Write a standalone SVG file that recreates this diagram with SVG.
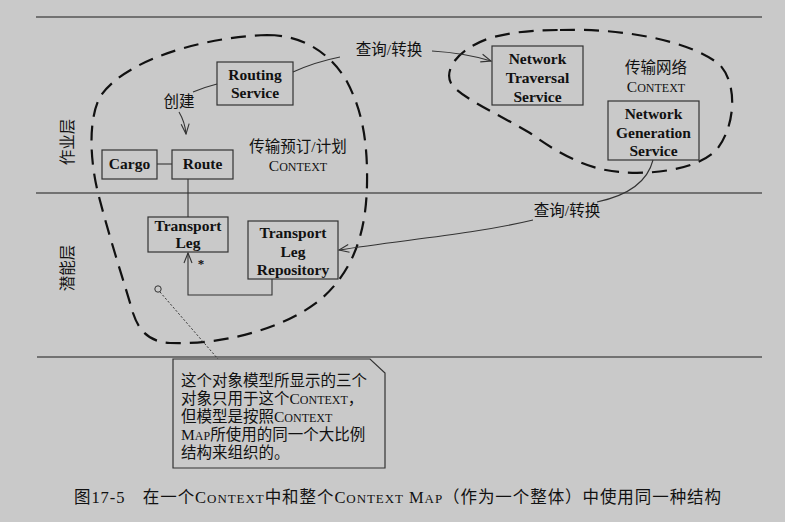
<svg xmlns="http://www.w3.org/2000/svg" width="785" height="522" viewBox="0 0 785 522">
<defs>
<marker id="open" markerWidth="12" markerHeight="10" refX="11" refY="5" orient="auto" markerUnits="userSpaceOnUse">
<path d="M1,1 L11,5 L1,9" fill="none" stroke="#333" stroke-width="1.1"/>
</marker>
<style>
.bg{fill:#c9c9c9}
.lane{stroke:#555;stroke-width:1.5;fill:none}
.blob{stroke:#111;stroke-width:2.2;fill:none;stroke-dasharray:15 9}
.box{fill:none;stroke:#333;stroke-width:1.2}
.con{fill:none;stroke:#333;stroke-width:1.1}
.nt{font-family:"Liberation Serif","Times New Roman",serif;font-weight:bold;font-size:15.5px;fill:#111;text-anchor:middle}
.cn{font-family:"Liberation Serif","Noto Sans CJK SC",serif;font-size:15.5px;fill:#111}
.sc{font-size:12px}
.mid{text-anchor:middle}
</style>
</defs>
<rect class="bg" x="0" y="0" width="785" height="522"/>

<g id="lanes">
<line class="lane" x1="36" y1="17" x2="762" y2="17"/>
<line class="lane" x1="36" y1="193" x2="762" y2="193"/>
<line class="lane" x1="37" y1="357" x2="762" y2="357"/>
<text class="cn mid" transform="translate(73,142) rotate(-90)">作业层</text>
<text class="cn mid" transform="translate(73,268) rotate(-90)">潜能层</text>
</g>

<g id="ctx-booking">
<path class="blob" d="M 267 35 C 305 35, 330 55, 345 78 C 360 105, 368 135, 367 185 C 366 230, 355 270, 320 300 C 285 328, 225 345, 170 343 C 145 342, 137 325, 133 313 C 125 285, 110 240, 98 193 C 90 160, 88 120, 100 97 C 120 65, 190 38, 267 35 Z"/>
<text class="cn mid" x="298" y="152">传输预订/计划</text>
<text class="cn mid" x="298" y="171">C<tspan class="sc">ONTEXT</tspan></text>
</g>

<g id="ctx-network">
<path class="blob" d="M 560 30 C 620 28, 690 40, 720 65 C 738 85, 735 125, 718 148 C 700 170, 650 175, 620 172 C 590 170, 560 155, 530 133 C 500 115, 465 100, 452 85 C 443 72, 455 50, 490 38 C 515 31, 540 30, 560 30 Z"/>
<text class="cn mid" x="656" y="73">传输网络</text>
<text class="cn mid" x="656" y="92">C<tspan class="sc">ONTEXT</tspan></text>
</g>

<g id="routing-service">
<rect class="box" x="217" y="62" width="76" height="43"/>
<text class="nt" x="255" y="80">Routing</text>
<text class="nt" x="255" y="98">Service</text>
</g>

<g id="cargo">
<rect class="box" x="102" y="150" width="55" height="29"/>
<text class="nt" x="129.5" y="169">Cargo</text>
</g>

<g id="route">
<rect class="box" x="172" y="150" width="61" height="29"/>
<text class="nt" x="202.5" y="169">Route</text>
</g>

<g id="transport-leg">
<rect class="box" x="148" y="217" width="80" height="35"/>
<text class="nt" x="188" y="231">Transport</text>
<text class="nt" x="188" y="248">Leg</text>
</g>

<g id="transport-leg-repository">
<rect class="box" x="248" y="221" width="90" height="58"/>
<text class="nt" x="293" y="238">Transport</text>
<text class="nt" x="293" y="257">Leg</text>
<text class="nt" x="293" y="275">Repository</text>
</g>

<g id="network-traversal-service">
<rect class="box" x="492" y="46" width="91" height="59"/>
<text class="nt" x="537.5" y="64">Network</text>
<text class="nt" x="537.5" y="83">Traversal</text>
<text class="nt" x="537.5" y="102">Service</text>
</g>

<g id="network-generation-service">
<rect class="box" x="608" y="101" width="91" height="59"/>
<text class="nt" x="653.5" y="119">Network</text>
<text class="nt" x="653.5" y="138">Generation</text>
<text class="nt" x="653.5" y="156">Service</text>
</g>

<g id="note">
<path class="box" d="M 173 359 L 370 359 L 385 373 L 385 468 L 173 468 Z"/>
<text class="cn" x="181" y="386">这个对象模型所显示的三个</text>
<text class="cn" x="181" y="404">对象只用于这个C<tspan class="sc">ONTEXT</tspan>，</text>
<text class="cn" x="181" y="422">但模型是按照C<tspan class="sc">ONTEXT</tspan></text>
<text class="cn" x="181" y="440">M<tspan class="sc">AP</tspan>所使用的同一个大比例</text>
<text class="cn" x="181" y="458">结构来组织的。</text>
</g>

<g id="connectors">
<path class="con" d="M 293 72 Q 315 62 340 57"/>
<text class="cn mid" x="389" y="55">查询/转换</text>
<path class="con" d="M 432 51 Q 465 53 491 61" marker-end="url(#open)"/>
<path class="con" d="M 217 84 Q 205 87 193 92"/>
<text class="cn mid" x="179" y="107">创建</text>
<path class="con" d="M 179 112 Q 185 122 186 134" marker-end="url(#open)"/>
<line class="con" x1="157" y1="164" x2="172" y2="164"/>
<line class="con" x1="188" y1="179" x2="188" y2="217"/>
<path class="con" d="M 272 279 V 295 H 188 V 253" marker-end="url(#open)"/>
<text class="nt" x="201" y="268" style="font-size:13px">*</text>
<path class="con" d="M 653 160 C 648 180, 630 195, 597 202"/>
<text class="cn mid" x="567" y="216">查询/转换</text>
<path class="con" d="M 533 220 C 470 235, 400 240, 339 250" marker-end="url(#open)"/>
<circle cx="158" cy="289" r="3.2" fill="none" stroke="#333" stroke-width="1"/>
<line x1="160" y1="292" x2="218" y2="359" stroke="#333" stroke-width="1" stroke-dasharray="2 2"/>
</g>

<g id="caption">
<text class="cn" x="74" y="503" style="font-size:16.5px" textLength="647" lengthAdjust="spacing">图17-5　在一个C<tspan style="font-size:13px">ONTEXT</tspan>中和整个C<tspan style="font-size:13px">ONTEXT</tspan> M<tspan style="font-size:13px">AP</tspan>（作为一个整体）中使用同一种结构</text>
</g>
</svg>
